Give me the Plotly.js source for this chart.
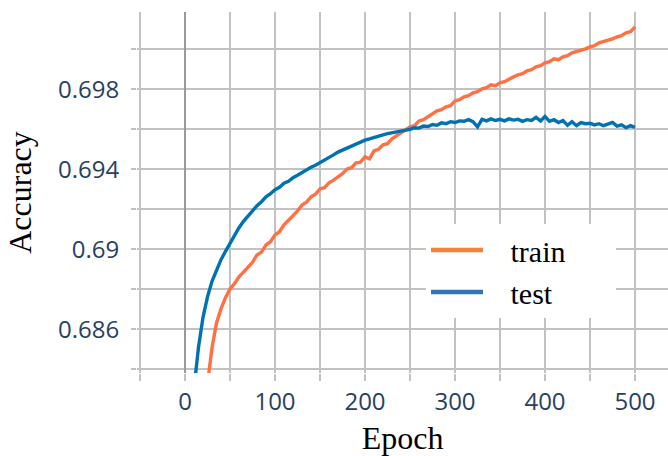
<!DOCTYPE html>
<html>
<head>
<meta charset="utf-8">
<script src="https://cdn.plot.ly/plotly-3.0.1.min.js"></script>
<style>html,body{margin:0;padding:0;background:#fff;}</style>
</head>
<body>
<div id="chart" style="width:668px;height:456px;"></div>
<script>
// Epochs for each series (read every 5 epochs from the picture)
const trainEpochs = [20,25,30,35,40,45,50,55,60,65,70,75,80,85,90,95,100,105,110,115,120,125,130,135,140,145,150,155,160,165,170,175,180,185,190,195,200,205,210,215,220,225,230,235,240,245,250,255,260,265,270,275,280,285,290,295,300,305,310,315,320,325,330,335,340,345,350,355,360,365,370,375,380,385,390,395,400,405,410,415,420,425,430,435,440,445,450,455,460,465,470,475,480,485,490,495,500];
const trainAcc = [0.68150,0.68340,0.68508,0.68632,0.68702,0.68758,0.68802,0.68828,0.68862,0.68886,0.68912,0.68935,0.68972,0.68986,0.69022,0.69038,0.69072,0.69088,0.69122,0.69148,0.69168,0.69192,0.69222,0.69236,0.69262,0.69276,0.69302,0.69308,0.69332,0.69346,0.69362,0.69378,0.69402,0.69408,0.69432,0.69436,0.69462,0.69452,0.69492,0.69500,0.69522,0.69528,0.69552,0.69566,0.69582,0.69598,0.69612,0.69618,0.69642,0.69648,0.69662,0.69676,0.69692,0.69698,0.69712,0.69718,0.69742,0.69748,0.69762,0.69768,0.69782,0.69788,0.69802,0.69808,0.69822,0.69818,0.69832,0.69838,0.69852,0.69862,0.69872,0.69878,0.69892,0.69898,0.69912,0.69918,0.69932,0.69938,0.69952,0.69948,0.69962,0.69968,0.69982,0.69988,0.69992,0.70002,0.70012,0.70018,0.70032,0.70038,0.70042,0.70052,0.70062,0.70068,0.70082,0.70088,0.70112];

const testEpochs = [5,10,15,20,25,30,35,40,45,50,55,60,65,70,75,80,85,90,95,100,105,110,115,120,125,130,135,140,145,150,155,160,165,170,175,180,185,190,195,200,205,210,215,220,225,230,235,240,245,250,255,260,265,270,275,280,285,290,295,300,305,310,315,320,325,330,335,340,345,350,355,360,365,370,375,380,385,390,395,400,405,410,415,420,425,430,435,440,445,450,455,460,465,470,475,480,485,490,495,500];
const testAcc = [0.68100,0.68310,0.68510,0.68660,0.68762,0.68840,0.68900,0.68948,0.68990,0.69030,0.69070,0.69108,0.69140,0.69168,0.69192,0.69218,0.69238,0.69262,0.69278,0.69298,0.69310,0.69330,0.69340,0.69358,0.69370,0.69385,0.69398,0.69410,0.69420,0.69432,0.69448,0.69460,0.69472,0.69486,0.69496,0.69508,0.69518,0.69528,0.69538,0.69546,0.69552,0.69560,0.69566,0.69572,0.69578,0.69582,0.69588,0.69592,0.69596,0.69600,0.69608,0.69606,0.69616,0.69614,0.69624,0.69620,0.69632,0.69628,0.69638,0.69634,0.69642,0.69640,0.69648,0.69638,0.69612,0.69650,0.69642,0.69652,0.69644,0.69650,0.69642,0.69652,0.69646,0.69650,0.69640,0.69648,0.69644,0.69660,0.69642,0.69664,0.69640,0.69648,0.69634,0.69644,0.69620,0.69638,0.69618,0.69634,0.69628,0.69630,0.69622,0.69628,0.69618,0.69624,0.69634,0.69616,0.69622,0.69608,0.69618,0.69610];

const xTicks = [0,100,200,300,400,500];
const yTicks = [0.686,0.69,0.694,0.698];
const seriesNames = ['train','test'];

const GRID = '#c2c2c2';
const NB = '\u00a0';
const tickFont = {family:'Open Sans, sans-serif', size:24, color:'#2a3f5f'};
const titleFont = {family:'Liberation Serif, Times New Roman, serif', size:32, color:'#000'};
const legendFont = {family:'Liberation Serif, Times New Roman, serif', size:30, color:'#000'};

const traces = [
  {x: trainEpochs, y: trainAcc, mode:'lines', line:{color:'#ff7043', width:3.4}, showlegend:false, hoverinfo:'skip'},
  {x: testEpochs, y: testAcc, mode:'lines', line:{color:'#0072b2', width:3.4}, showlegend:false, hoverinfo:'skip'},
  {x:[null], y:[null], mode:'lines', name: NB+NB+NB+seriesNames[0]+NB+NB+NB+NB+NB+NB, line:{color:'#f2843a', width:4.5}},
  {x:[null], y:[null], mode:'lines', name: NB+NB+NB+seriesNames[1], line:{color:'#2e75b6', width:4.5}}
];

const layout = {
  width:668, height:456, autosize:false,
  margin:{l:137, r:0, t:12, b:83},
  paper_bgcolor:'#fff', plot_bgcolor:'#fff',
  xaxis:{
    range:[-53.33, 536.67], tickmode:'array', tickvals:xTicks, ticktext:xTicks.map(String),
    ticks:'outside', ticklen:7, tickwidth:2, tickcolor:GRID,
    showgrid:true, gridcolor:GRID, gridwidth:2,
    zeroline:true, zerolinecolor:'#9a9a9a', zerolinewidth:2.5,
    minor:{dtick:50, tick0:0, ticks:'outside', ticklen:7, tickwidth:2, tickcolor:GRID, showgrid:true, gridcolor:GRID, gridwidth:2},
    tickfont:tickFont, showline:false,
    title:{text:'Epoch', font:titleFont, standoff:15}
  },
  yaxis:{
    range:[0.683815, 0.701865], tickmode:'array', tickvals:yTicks, ticktext:yTicks.map(String),
    ticks:'outside', ticklen:5, tickwidth:2, tickcolor:GRID,
    showgrid:true, gridcolor:GRID, gridwidth:2, zeroline:false,
    minor:{dtick:0.002, tick0:0.684, ticks:'outside', ticklen:5, tickwidth:2, tickcolor:GRID, showgrid:true, gridcolor:GRID, gridwidth:2},
    tickfont:tickFont, showline:false, ticklabelstandoff:7,
    title:{text:'Accuracy', font:titleFont, standoff:16}
  },
  legend:{x:(426-137)/531, y:1-(224-12)/361, xanchor:'left', yanchor:'top', bgcolor:'#fff', borderwidth:0,
    font:legendFont, itemwidth:52, traceorder:'normal'},
  showlegend:true
};

Plotly.newPlot('chart', traces, layout, {displayModeBar:false, staticPlot:true});
</script>
</body>
</html>
